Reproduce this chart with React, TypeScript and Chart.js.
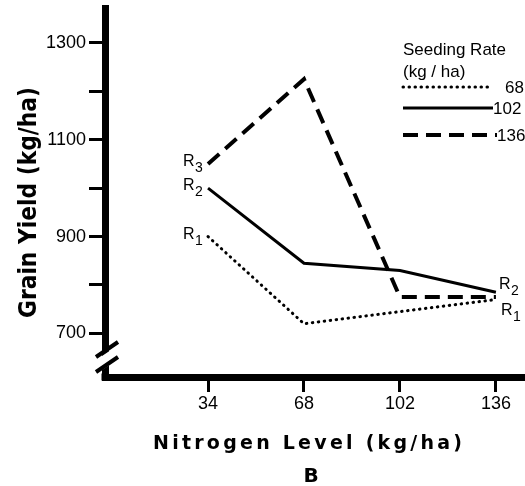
import React, { useEffect, useRef } from 'react';
import { Chart, registerables } from 'chart.js';

Chart.register(...registerables);

// ---- data ----
const nitrogenLevels = [34, 68, 102, 136];
const yTickValues = [700, 800, 900, 1000, 1100, 1200, 1300];
const yTickLabels = ['700', '', '900', '', '1100', '', '1300'];
const rate68Yield: (number | null)[] = [900, 720, null, 770];
const rate102Yield = [1000, 845, 830, 785];
const rate136Yield = [1050, 1225, 775, 775];
const seedingRates = ['68', '102', '136'];
const seriesTags = ['1', '2', '3'];
const yTitle = 'Grain Yield (kg/ha)';
const xTitle = 'Nitrogen Level (kg/ha)';
const panelLabel = 'B';
const legendTitle = ['Seeding Rate', '(kg / ha)'];

const TICK_FONT = '"Liberation Sans", Arial, sans-serif';
const TITLE_FONT = '"DejaVu Sans", sans-serif';

const styles = [
  { dash: [0.5, 5.5], width: 3, cap: 'round' as CanvasLineCap },
  { dash: [] as number[], width: 3, cap: 'butt' as CanvasLineCap },
  { dash: [15, 8], width: 4, cap: 'butt' as CanvasLineCap },
];

function drawFitted(ctx: CanvasRenderingContext2D, text: string, x0: number, y: number, targetW: number, font: string) {
  ctx.font = font;
  (ctx as any).letterSpacing = '0px';
  const w = ctx.measureText(text).width;
  ctx.textAlign = 'left';
  ctx.textBaseline = 'alphabetic';
  if (w > targetW) {
    ctx.save();
    ctx.translate(x0, y);
    ctx.scale(targetW / w, 1);
    ctx.fillText(text, 0, 0);
    ctx.restore();
  } else {
    const ls = (targetW - w) / (text.length - 1);
    (ctx as any).letterSpacing = ls + 'px';
    ctx.fillText(text, x0, y);
    (ctx as any).letterSpacing = '0px';
  }
}

const decorPlugin = {
  id: 'decor',
  afterDraw(chart: any) {
    const ctx: CanvasRenderingContext2D = chart.ctx;
    const { left, bottom } = chart.chartArea;
    ctx.save();
    ctx.fillStyle = '#000';
    ctx.strokeStyle = '#000';
    // corner fill
    ctx.fillRect(left - 3.5, bottom - 3.5, 7, 7);

    // axis break
    ctx.fillStyle = '#fff';
    ctx.beginPath();
    ctx.moveTo(left - 6, bottom - 19);
    ctx.lineTo(left + 6, bottom - 27);
    ctx.lineTo(left + 6, bottom - 13);
    ctx.lineTo(left - 6, bottom - 5);
    ctx.closePath();
    ctx.fill();
    ctx.lineWidth = 4;
    ctx.setLineDash([]);
    ctx.beginPath();
    ctx.moveTo(left - 9, bottom - 20);
    ctx.lineTo(left + 13, bottom - 35);
    ctx.moveTo(left - 9, bottom - 5);
    ctx.lineTo(left + 13, bottom - 20);
    ctx.stroke();

    ctx.fillStyle = '#000';
    // series tags
    const drawTag = (tag: string, x: number, y: number) => {
      ctx.textAlign = 'left';
      ctx.textBaseline = 'alphabetic';
      ctx.font = '16px ' + TICK_FONT;
      ctx.fillText('R', x, y);
      ctx.font = '14px ' + TICK_FONT;
      ctx.fillText(tag, x + 12, y + 6);
    };
    for (let d = 0; d < 3; d++) {
      const p = chart.getDatasetMeta(d).data[0];
      drawTag(seriesTags[d], p.x - 25, p.y + 2);
    }
    const pR2 = chart.getDatasetMeta(1).data[3];
    drawTag(seriesTags[1], pR2.x + 3, pR2.y - 3);
    const pR1 = chart.getDatasetMeta(0).data[3];
    drawTag(seriesTags[0], pR1.x + 5, pR1.y + 15);

    // legend
    ctx.font = '17px ' + TICK_FONT;
    ctx.textAlign = 'left';
    ctx.fillText(legendTitle[0], 403, 55);
    ctx.fillText(legendTitle[1], 403, 77);
    const rows = [
      { y: 87, x2: 490, tx: 505 },
      { y: 108, x2: 493, tx: 493 },
      { y: 135, x2: 497, tx: 497 },
    ];
    rows.forEach((r, i) => {
      const s = styles[i];
      ctx.save();
      ctx.lineWidth = s.width;
      ctx.lineCap = s.cap;
      ctx.setLineDash(s.dash);
      ctx.beginPath();
      ctx.moveTo(403, r.y);
      ctx.lineTo(r.x2, r.y);
      ctx.stroke();
      ctx.restore();
      ctx.font = '17px ' + TICK_FONT;
      ctx.fillText(seedingRates[i], r.tx, r.y + 6);
    });

    // axis titles
    ctx.fillStyle = '#000';
    drawFitted(ctx, xTitle, 153, 449, 309, 'bold 19px ' + TITLE_FONT);
    ctx.save();
    ctx.translate(36, 318);
    ctx.rotate(-Math.PI / 2);
    drawFitted(ctx, yTitle, 0, 0, 231, 'bold 25px ' + TITLE_FONT);
    ctx.restore();
    ctx.font = 'bold 20px ' + TITLE_FONT;
    ctx.textAlign = 'center';
    ctx.fillText(panelLabel, 311, 482);
    ctx.restore();
  },
};

export default function App() {
  const ref = useRef<HTMLCanvasElement | null>(null);
  useEffect(() => {
    if (!ref.current) return;
    const mk = (vals: (number | null)[]) => nitrogenLevels.map((x, i) => ({ x, y: vals[i] }));
    const series = [rate68Yield, rate102Yield, rate136Yield];
    const chart = new Chart(ref.current, {
      type: 'line',
      data: {
        datasets: series.map((vals, i) => ({
          label: seedingRates[i],
          data: mk(vals) as any,
          borderColor: '#000',
          borderWidth: styles[i].width,
          borderDash: styles[i].dash,
          borderCapStyle: styles[i].cap,
          pointRadius: 0,
          fill: false,
          tension: 0,
          spanGaps: true,
          clip: false as any,
        })),
      },
      options: {
        animation: false,
        responsive: false,
        layout: { padding: { top: 8, right: 0, left: 0, bottom: 0 } },
        plugins: { legend: { display: false }, tooltip: { enabled: false }, title: { display: false } },
        scales: {
          x: {
            type: 'linear',
            min: -2.5,
            max: 146.3,
            afterBuildTicks: (s: any) => { s.ticks = nitrogenLevels.map((v) => ({ value: v })); },
            afterFit: (s: any) => { s.height = 109; s.paddingLeft = 0; s.paddingRight = 0; },
            border: { display: true, width: 7, color: '#000' },
            grid: { drawOnChartArea: false, drawTicks: true, tickLength: 15, tickWidth: 3, tickColor: '#000' },
            ticks: { color: '#000', font: { family: TICK_FONT, size: 18 }, padding: 1, maxRotation: 0, autoSkip: false,
              callback: (v: any) => String(v) },
          },
          y: {
            type: 'linear',
            min: 610,
            max: 1372,
            afterBuildTicks: (s: any) => { s.ticks = yTickValues.map((v) => ({ value: v })); },
            afterFit: (s: any) => { s.width = 105; s.paddingTop = 0; s.paddingBottom = 0; },
            border: { display: true, width: 7, color: '#000' },
            grid: { drawOnChartArea: false, drawTicks: true, tickLength: 16, tickWidth: 3, tickColor: '#000' },
            ticks: { color: '#000', font: { family: TICK_FONT, size: 18 }, padding: 3, autoSkip: false,
              callback: (v: any) => { const i = yTickValues.indexOf(Number(v)); return i >= 0 ? yTickLabels[i] : ''; } },
          },
        },
      },
      plugins: [decorPlugin],
    });
    return () => chart.destroy();
  }, []);
  return (
    <div style={{ position: 'fixed', left: 0, top: 0, width: 525, height: 486, background: '#fff' }}>
      <canvas ref={ref} width={525} height={486} style={{ width: 525, height: 486, display: 'block' }} />
    </div>
  );
}
